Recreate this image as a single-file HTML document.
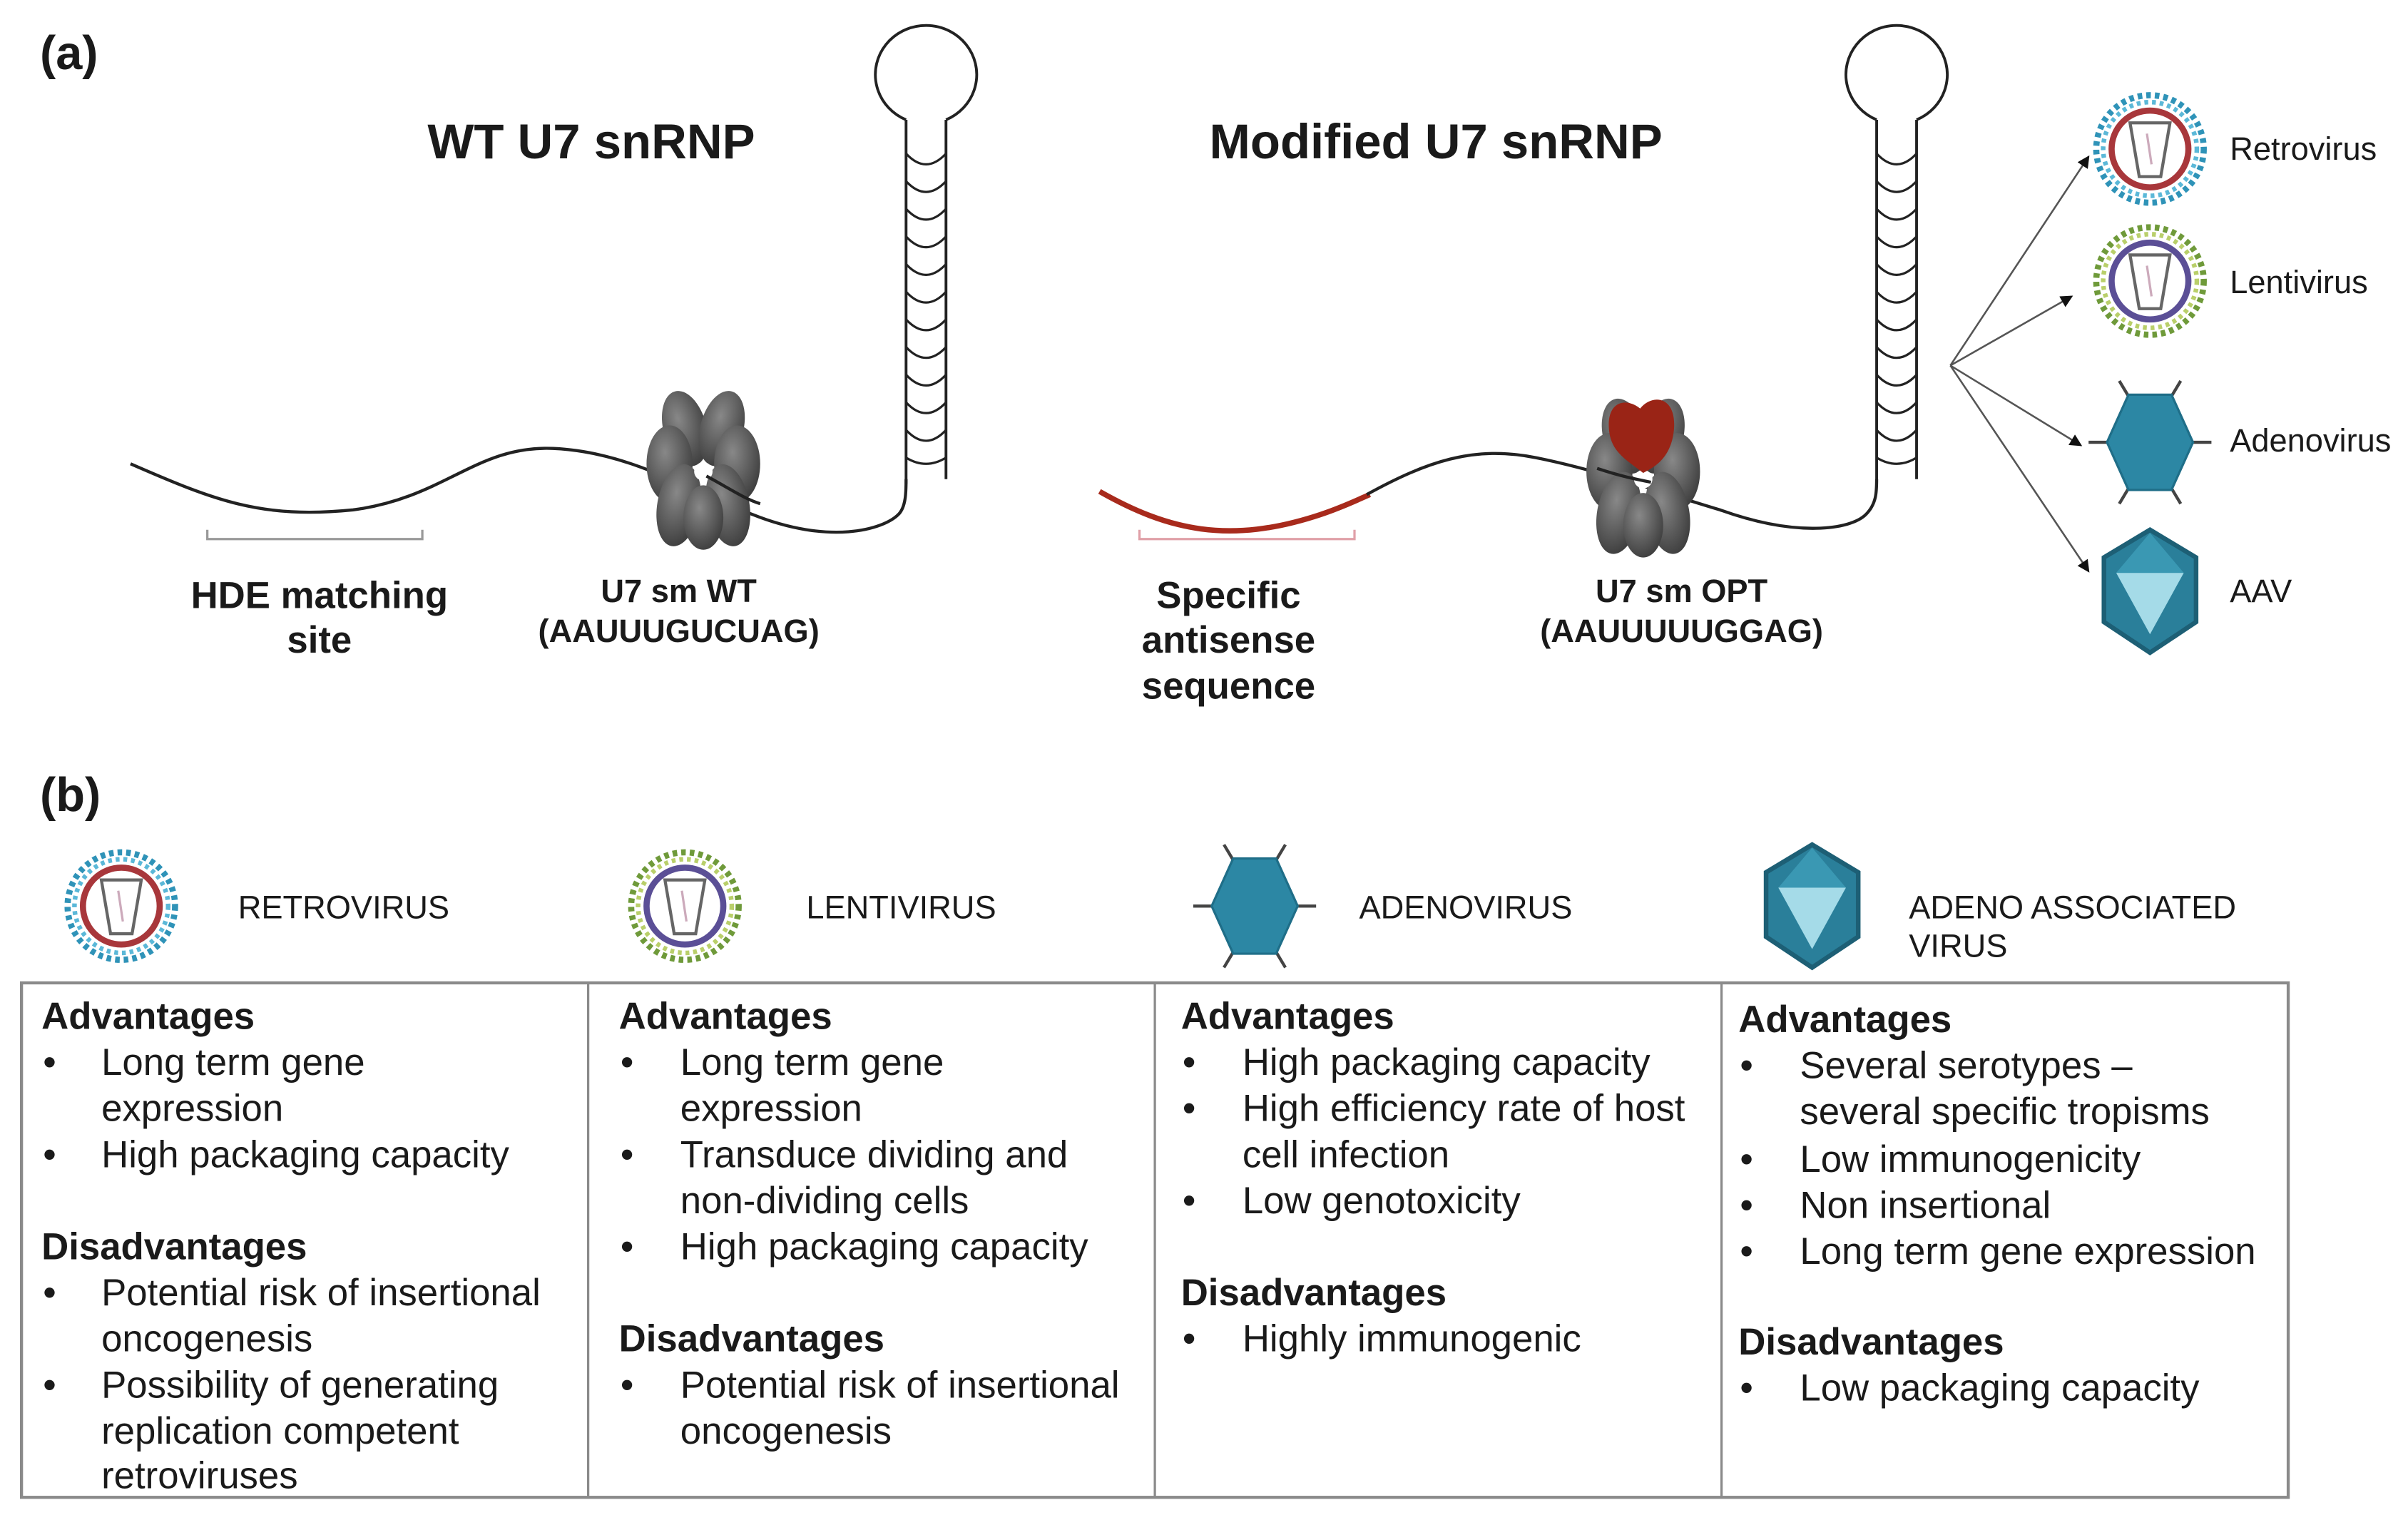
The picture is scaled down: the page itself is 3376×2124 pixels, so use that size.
<!DOCTYPE html>
<html><head><meta charset="utf-8"><style>
html,body{margin:0;padding:0;background:#fff}
svg{display:block}
text{font-family:"Liberation Sans",Arial,sans-serif;fill:#1a1a1a}
.b{font-weight:bold}
.t{font-size:24.5px}
.h{font-size:24.5px;font-weight:bold}
</style></head><body>
<svg width="3376" height="2124" viewBox="0 0 1568 986.5" xmlns="http://www.w3.org/2000/svg">
<defs>
<g id="retro">
<circle r="35" fill="none" stroke="#2f93b8" stroke-width="4" stroke-dasharray="3 2.6"/>
<circle r="30.5" fill="none" stroke="#5bb8d8" stroke-width="3" stroke-dasharray="2.5 2.5"/>
<circle r="25" fill="#fff" stroke="#a8373b" stroke-width="4"/>
<path d="M-13,-17 L13,-17 L7,18 L-7,18 Z" fill="none" stroke="#666" stroke-width="2"/>
<path d="M-2,-10 L1,10" stroke="#cab" stroke-width="1.5"/>
</g>
<g id="lenti">
<circle r="35" fill="none" stroke="#6f9a3a" stroke-width="4" stroke-dasharray="3 2.6"/>
<circle r="30.5" fill="none" stroke="#b9cf6a" stroke-width="3" stroke-dasharray="2.5 2.5"/>
<circle r="25" fill="#fff" stroke="#5b4f96" stroke-width="4"/>
<path d="M-13,-17 L13,-17 L7,18 L-7,18 Z" fill="none" stroke="#666" stroke-width="2"/>
<path d="M-2,-10 L1,10" stroke="#cab" stroke-width="1.5"/>
</g>
<g id="adeno">
<path d="M-40,0 L-28,0 M28,0 L40,0 M-14,-30 L-20,-40 M14,-30 L20,-40 M-14,30 L-20,40 M14,30 L20,40" stroke="#444" stroke-width="2"/>
<polygon points="-28,0 -14,-31 14,-31 28,0 14,31 -14,31" fill="#2c87a4" stroke="#1f6e88" stroke-width="1.5"/>
</g>
<g id="aav">
<polygon points="0,-40 30,-22 30,20 0,40 -30,20 -30,-22" fill="#2a7f9a" stroke="#1d5f75" stroke-width="3"/>
<polygon points="-22,-12 22,-12 0,28" fill="#a5dbe8"/>
<polygon points="0,-38 -22,-12 22,-12" fill="#3a98b3"/>
</g>
<radialGradient id="sm" cx="40%" cy="35%" r="70%"><stop offset="0" stop-color="#888"/><stop offset="1" stop-color="#3c3c3c"/></radialGradient>
<g id="ring">
<ellipse cx="-12" cy="-28" rx="14" ry="25" fill="url(#sm)" transform="rotate(-15 -12 -28)"/>
<ellipse cx="12" cy="-28" rx="14" ry="25" fill="url(#sm)" transform="rotate(15 12 -28)"/>
<ellipse cx="-22" cy="-5" rx="15" ry="25" fill="url(#sm)"/>
<ellipse cx="22" cy="-5" rx="15" ry="25" fill="url(#sm)"/>
<ellipse cx="-16" cy="22" rx="14" ry="27" fill="url(#sm)" transform="rotate(10 -16 22)"/>
<ellipse cx="16" cy="22" rx="14" ry="27" fill="url(#sm)" transform="rotate(-10 16 22)"/>
<ellipse cx="0" cy="30" rx="13" ry="21" fill="url(#sm)"/>
<circle cx="0" cy="0" r="6" fill="#fff"/>
</g>
<marker id="ar" markerWidth="8" markerHeight="8" refX="7" refY="4" orient="auto" markerUnits="userSpaceOnUse"><path d="M0,0 L8,4 L0,8 Z" fill="#111"/></marker>
</defs>

<text x="26" y="45" class="b" style="font-size:31px">(a)</text>
<text x="385" y="103" class="b" text-anchor="middle" style="font-size:32px">WT U7 snRNP</text>
<text x="935" y="103" class="b" text-anchor="middle" style="font-size:32px">Modified U7 snRNP</text>

<g fill="none" stroke="#222" stroke-width="1.8">
<path d="M590,78 A33,32 0 1 1 616,78"/>
<line x1="590" y1="78" x2="590" y2="315"/>
<line x1="616" y1="78" x2="616" y2="312"/>
</g>
<g fill="none" stroke="#222" stroke-width="1.5" id="rungs">
<path d="M590,100 q13,14 26,0 M590,118 q13,14 26,0 M590,136 q13,14 26,0 M590,154 q13,14 26,0 M590,172 q13,14 26,0 M590,190 q13,14 26,0 M590,208 q13,14 26,0 M590,226 q13,14 26,0 M590,244 q13,14 26,0 M590,262 q13,14 26,0 M590,280 q13,14 26,0 M590,298 q13,8 26,0"/>
</g>
<path d="M85,302 C140,326 170,338 230,332 C290,324 310,290 360,292 C410,294 450,320 490,335 C540,355 575,345 585,335 C590,330 590,320 590,312" fill="none" stroke="#222" stroke-width="2"/>
<use href="#ring" x="458" y="307"/>
<path d="M460,310 C475,318 485,325 495,328" fill="none" stroke="#222" stroke-width="2"/>
<path d="M135,345 L135,351 L275,351 L275,345" fill="none" stroke="#999" stroke-width="1.5"/>
<text x="208" y="396" class="b" text-anchor="middle" style="font-size:24.5px">HDE matching</text>
<text x="208" y="425" class="b" text-anchor="middle" style="font-size:24.5px">site</text>
<text x="442" y="392" class="b" text-anchor="middle" style="font-size:21px">U7 sm  WT</text>
<text x="442" y="418" class="b" text-anchor="middle" style="font-size:21px">(AAUUUGUCUAG)</text>

<g fill="none" stroke="#222" stroke-width="1.8">
<path d="M1222,78 A33,32 0 1 1 1248,78"/>
<line x1="1222" y1="78" x2="1222" y2="315"/>
<line x1="1248" y1="78" x2="1248" y2="312"/>
</g>
<use href="#rungs" x="632" y="0"/>
<path d="M716,320 C760,345 800,355 860,335 C875,330 885,325 892,322" fill="none" stroke="#a82a1c" stroke-width="3.5"/>
<path d="M890,322 C930,300 960,290 1000,298 C1040,306 1080,320 1120,332 C1170,350 1205,345 1215,335 C1222,328 1222,320 1222,312" fill="none" stroke="#222" stroke-width="2"/>
<use href="#ring" x="1070" y="312"/>
<path d="M1048,282 C1045,262 1058,258 1068,266 C1076,256 1092,258 1090,280 C1088,300 1075,305 1070,308 C1060,300 1050,295 1048,282 Z" fill="#9a2416"/>
<path d="M1040,305 C1055,310 1065,312 1075,314" fill="none" stroke="#222" stroke-width="2"/>
<path d="M742,345 L742,351 L882,351 L882,345" fill="none" stroke="#e0a0a8" stroke-width="1.5"/>
<text x="800" y="396" class="b" text-anchor="middle" style="font-size:24.5px">Specific</text>
<text x="800" y="425" class="b" text-anchor="middle" style="font-size:24.5px">antisense</text>
<text x="800" y="455" class="b" text-anchor="middle" style="font-size:24.5px">sequence</text>
<text x="1095" y="392" class="b" text-anchor="middle" style="font-size:21px">U7 sm OPT</text>
<text x="1095" y="418" class="b" text-anchor="middle" style="font-size:21px">(AAUUUUUGGAG)</text>

<g stroke="#555" stroke-width="1.2" marker-end="url(#ar)">
<line x1="1270" y1="238" x2="1360" y2="102"/>
<line x1="1270" y1="238" x2="1349" y2="193"/>
<line x1="1270" y1="238" x2="1355" y2="290"/>
<line x1="1270" y1="238" x2="1360" y2="372"/>
</g>
<use href="#retro" x="1400" y="97"/>
<use href="#lenti" x="1400" y="183"/>
<use href="#adeno" x="1400" y="288"/>
<use href="#aav" x="1400" y="385"/>
<text x="1452" y="104" style="font-size:21px">Retrovirus</text>
<text x="1452" y="191" style="font-size:21px">Lentivirus</text>
<text x="1452" y="294" style="font-size:21px">Adenovirus</text>
<text x="1452" y="392" style="font-size:21px">AAV</text>

<text x="26" y="528" class="b" style="font-size:31px">(b)</text>
<use href="#retro" x="79" y="590"/>
<use href="#lenti" x="446" y="590"/>
<use href="#adeno" x="817" y="590"/>
<use href="#aav" x="1180" y="590"/>
<text x="155" y="598" style="font-size:21px">RETROVIRUS</text>
<text x="525" y="598" style="font-size:21px">LENTIVIRUS</text>
<text x="885" y="598" style="font-size:21px">ADENOVIRUS</text>
<text x="1243" y="598" style="font-size:21px">ADENO ASSOCIATED</text>
<text x="1243" y="623" style="font-size:21px">VIRUS</text>

<rect x="14" y="640" width="1476" height="335" fill="none" stroke="#8a8a8a" stroke-width="2"/>
<g stroke="#8a8a8a" stroke-width="1.5">
<line x1="383" y1="640" x2="383" y2="975"/>
<line x1="752" y1="640" x2="752" y2="975"/>
<line x1="1121" y1="640" x2="1121" y2="975"/>
</g>

<g class="t">
<text x="27" y="670" class="h">Advantages</text>
<text x="28" y="700">•</text><text x="66" y="700">Long term gene</text>
<text x="66" y="730">expression</text>
<text x="28" y="760">•</text><text x="66" y="760">High packaging capacity</text>
<text x="27" y="820" class="h">Disadvantages</text>
<text x="28" y="850">•</text><text x="66" y="850">Potential risk of insertional</text>
<text x="66" y="880">oncogenesis</text>
<text x="28" y="910">•</text><text x="66" y="910">Possibility of generating</text>
<text x="66" y="940">replication competent</text>
<text x="66" y="969">retroviruses</text>
<text x="403" y="670" class="h">Advantages</text>
<text x="404" y="700">•</text><text x="443" y="700">Long term gene</text>
<text x="443" y="730">expression</text>
<text x="404" y="760">•</text><text x="443" y="760">Transduce dividing and</text>
<text x="443" y="790">non-dividing cells</text>
<text x="404" y="820">•</text><text x="443" y="820">High packaging capacity</text>
<text x="403" y="880" class="h">Disadvantages</text>
<text x="404" y="910">•</text><text x="443" y="910">Potential risk of insertional</text>
<text x="443" y="940">oncogenesis</text>
<text x="769" y="670" class="h">Advantages</text>
<text x="770" y="700">•</text><text x="809" y="700">High packaging capacity</text>
<text x="770" y="730">•</text><text x="809" y="730">High efficiency rate of host</text>
<text x="809" y="760">cell infection</text>
<text x="770" y="790">•</text><text x="809" y="790">Low genotoxicity</text>
<text x="769" y="850" class="h">Disadvantages</text>
<text x="770" y="880">•</text><text x="809" y="880">Highly immunogenic</text>
<text x="1132" y="672" class="h">Advantages</text>
<text x="1133" y="702">•</text><text x="1172" y="702">Several serotypes –</text>
<text x="1172" y="732">several specific tropisms</text>
<text x="1133" y="763">•</text><text x="1172" y="763">Low immunogenicity</text>
<text x="1133" y="793">•</text><text x="1172" y="793">Non insertional</text>
<text x="1133" y="823">•</text><text x="1172" y="823">Long term gene expression</text>
<text x="1132" y="882" class="h">Disadvantages</text>
<text x="1133" y="912">•</text><text x="1172" y="912">Low packaging capacity</text>
</g>
</svg>
</body></html>
